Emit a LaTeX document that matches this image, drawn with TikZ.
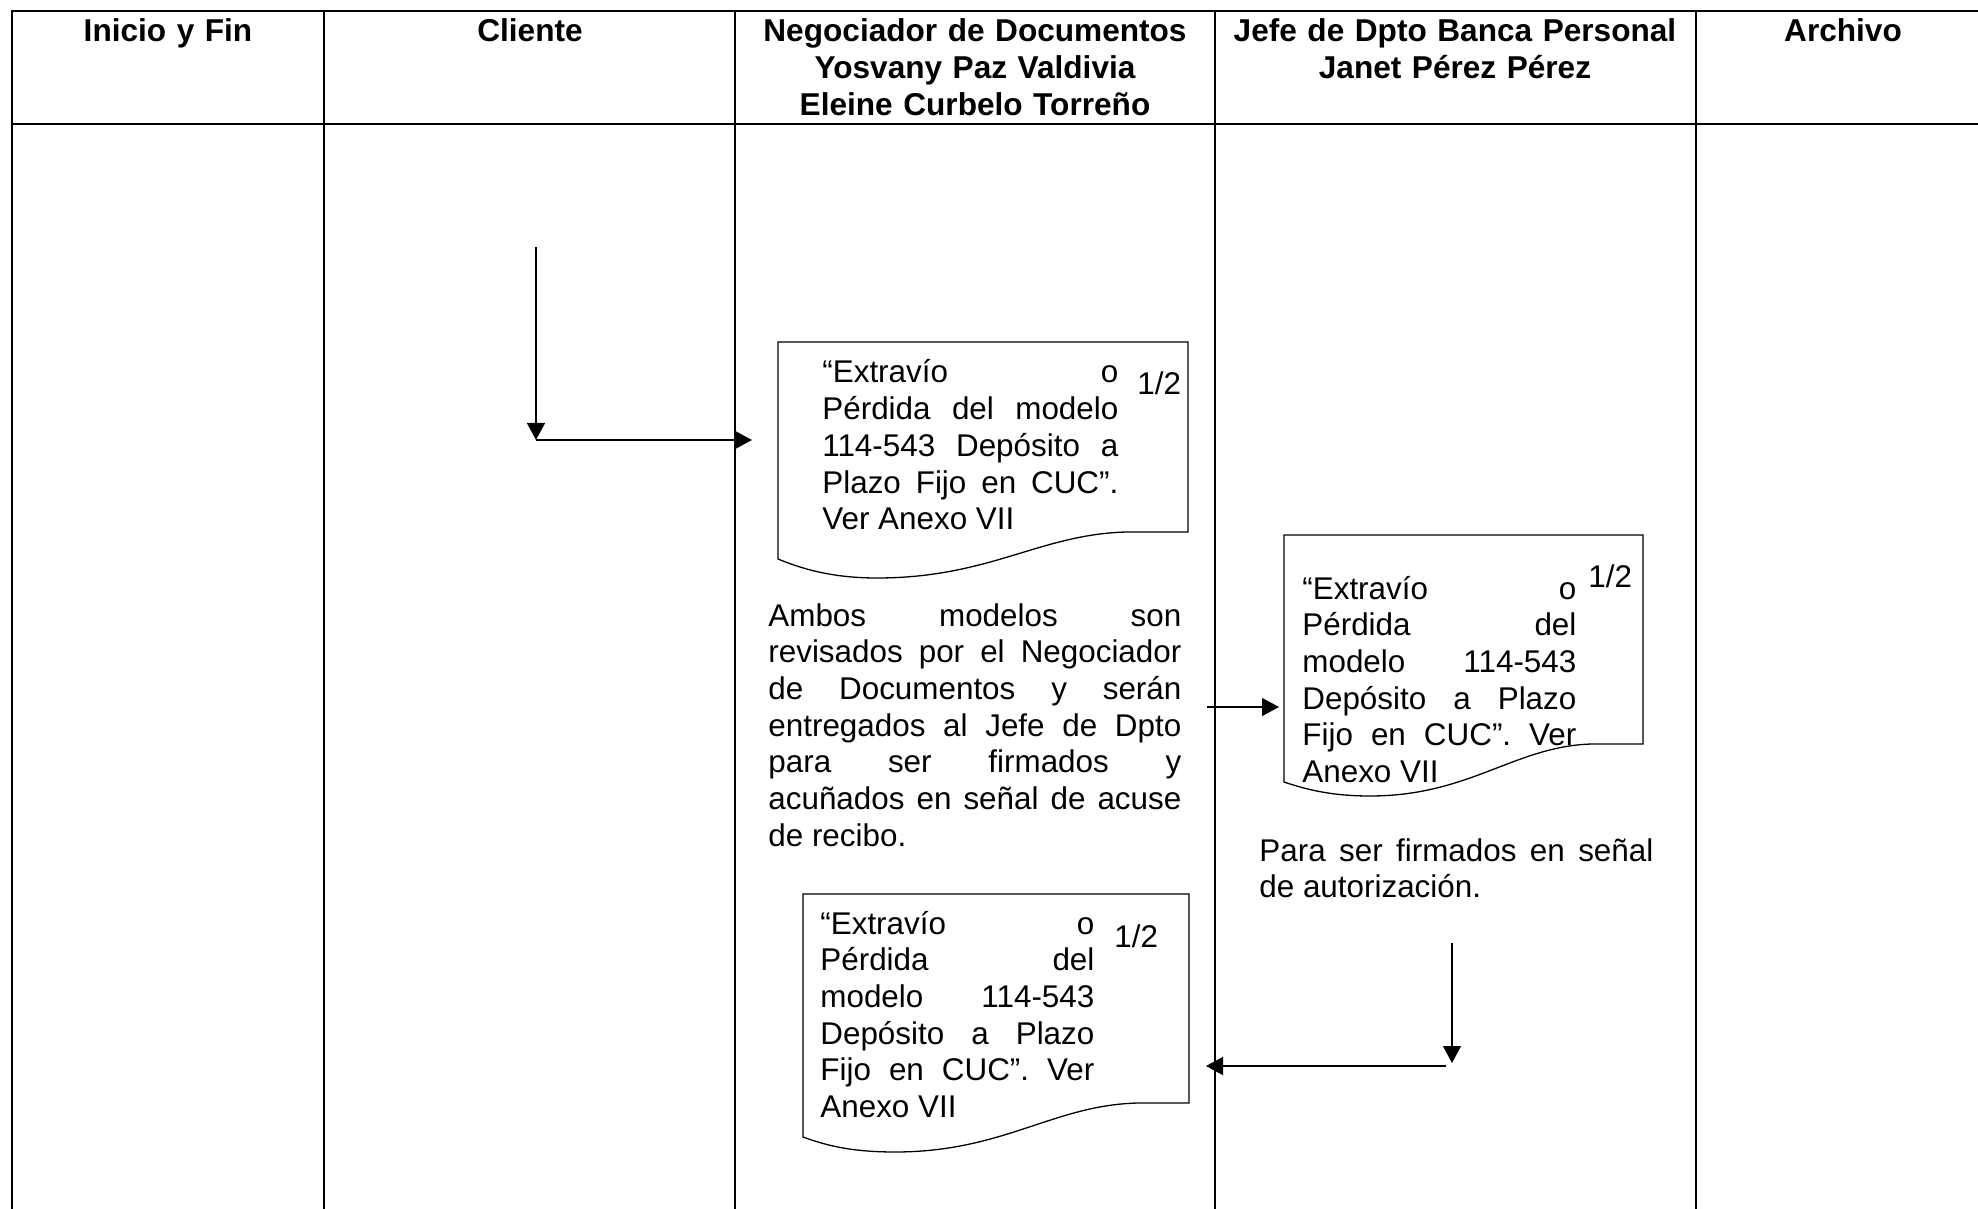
\documentclass[tikz,border=0pt]{standalone}
\usepackage{fontspec}
\setmainfont{Liberation Sans}
\usetikzlibrary{arrows.meta}
\begin{document}
\tolerance=10000 \hbadness=10000 \hyphenpenalty=10000 \exhyphenpenalty=10000
\begin{tikzpicture}[x=0.5pt,y=-0.5pt,
  grid/.style={line width=0.9pt},
  docline/.style={line width=0.65pt},
  arr/.style={line width=0.75pt,-{Triangle[length=8.5pt,width=9pt]}},
  head/.style={anchor=base,inner sep=0pt,align=center,font=\fontsize{15.8}{18.35}\selectfont\bfseries},
  body/.style={anchor=base west,inner sep=0pt,align=justify,font=\fontsize{15.7}{18.35}\selectfont},
  pg/.style={anchor=base west,inner sep=0pt,font=\fontsize{15.7}{18.35}\selectfont}]
\useasboundingbox (0,0) rectangle (1978,1209);
\clip (0,0) rectangle (1978,1209);

% swimlane grid
\draw[grid] (12,1230) -- (12,11) -- (2000,11);
\draw[grid] (12,124) -- (2000,124);
\foreach \x in {324,735,1215,1696} \draw[grid] (\x,11) -- (\x,1230);

% lane headings
\node[head,text width=150pt] (h1) at (168,42) {Inicio y Fin};
\node[head,text width=195pt] (h2) at (530,42) {Cliente};
\node[head,text width=230pt] (h3) at (975,42) {Negociador de Documentos\\Yosvany Paz Valdivia\\Eleine Curbelo Torreño};
\node[head,text width=230pt] (h4) at (1455,42) {Jefe de Dpto Banca Personal\\Janet Pérez Pérez};
\node[head,text width=140pt] (h5) at (1843,42) {Archivo};

% document symbols
\draw[docline] (778,342) -- (1188,342) -- (1188,532) -- (1127,532)
  .. controls (1040,534) and (990,578) .. (877,578)
  .. controls (830,578) and (800,568) .. (778,559) -- cycle;
\draw[docline] (1284,535) -- (1643,535) -- (1643,744) -- (1592,744)
  .. controls (1515,746) and (1470,796) .. (1370,796)
  .. controls (1330,796) and (1305,789) .. (1284,782) -- cycle;
\draw[docline] (803,894) -- (1189,894) -- (1189,1103) -- (1138,1103)
  .. controls (1053,1105) and (1004,1152) .. (895,1152)
  .. controls (850,1152) and (825,1145) .. (803,1137) -- cycle;

% document texts
\node[body,text width=148pt] (t1) at (822,383) {“Extravío o\linebreak Pérdida del modelo\linebreak 114-543 Depósito a\linebreak Plazo Fijo en CUC”.\linebreak Ver Anexo VII};
\node[pg] (p1) at (1137,395) {1/2};
\node[body,text width=137pt] (t2) at (1302,599) {“Extravío o\linebreak Pérdida del\linebreak modelo 114-543\linebreak Depósito a Plazo\linebreak Fijo en CUC”. Ver\linebreak Anexo VII};
\node[pg] (p2) at (1588,587) {1/2};
\node[body,text width=137pt] (t3) at (820,934) {“Extravío o\linebreak Pérdida del\linebreak modelo 114-543\linebreak Depósito a Plazo\linebreak Fijo en CUC”. Ver\linebreak Anexo VII};
\node[pg] (p3) at (1114,947) {1/2};

% notes
\node[body,text width=206.5pt] (amb) at (768,626) {Ambos modelos son\linebreak revisados por el Negociador\linebreak de Documentos y serán\linebreak entregados al Jefe de Dpto\linebreak para ser firmados y\linebreak acuñados en señal de acuse\linebreak de recibo.};
\node[body,text width=197pt] (para) at (1259,861) {Para ser firmados en señal\linebreak de autorización.};

% connector ends
\coordinate (a1) at (536,247);
\coordinate (a2) at (536,440);
\coordinate (a3) at (752,440);
\coordinate (b1) at (1207,707);
\coordinate (b2) at (1279,707);
\coordinate (c1) at (1452,943);
\coordinate (c2) at (1452,1063);
\coordinate (c3) at (1446,1066);
\coordinate (c4) at (1206,1066);

% connectors
\draw[arr] (a1) -- (a2);
\draw[arr] (a2) -- (a3);
\draw[arr] (b1) -- (b2);
\draw[arr] (c1) -- (c2);
\draw[arr] (c3) -- (c4);
\end{tikzpicture}
\end{document}
